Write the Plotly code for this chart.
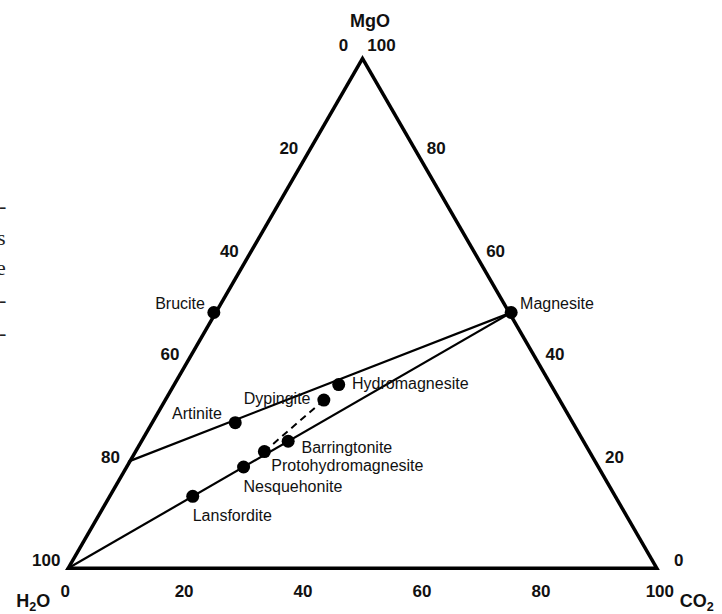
import plotly.graph_objects as go

NB = "\u00a0"

# Mg-carbonate / hydroxide phases, mol % of MgO, CO2 and H2O
minerals = ["Brucite", "Magnesite", "Hydromagnesite", "Dypingite", "Artinite",
            "Barringtonite", "Protohydromagnesite", "Nesquehonite", "Lansfordite"]
mgo = [50, 50, 36, 33, 28.6, 25, 23, 20, 14.3]
co2 = [0, 50, 28, 27, 14.3, 25, 22, 20, 14.3]
h2o = [50, 0, 36, 40, 57.1, 50, 55, 60, 71.4]

# Solid tie lines: (start, end) compositions
tie_mgo = [[21, 50], [0, 50]]
tie_co2 = [[0, 50], [0, 50]]
tie_h2o = [[79, 0], [100, 0]]

# Dashed link between two phases
dashed_pair = ["Dypingite", "Protohydromagnesite"]

tick_values = [0, 20, 40, 60, 80, 100]

# Label placement: textposition, blank lines before, left pad, right pad, offset size
label_style = {
    "Brucite": ("top left", 0, 0, 2, 0),
    "Magnesite": ("top right", 0, 2, 0, 0),
    "Hydromagnesite": ("middle right", 0, 3, 0, 0),
    "Dypingite": ("middle left", 0, 0, 3, 0),
    "Artinite": ("top left", 0, 0, 3, 0),
    "Barringtonite": ("bottom right", 0, 3, 0, 0),
    "Protohydromagnesite": ("bottom right", 0, 0, 0, 9.6),
    "Nesquehonite": ("middle right", 2, 0, 0, 0),
    "Lansfordite": ("middle right", 2, 0, 0, 0),
}

SANS = "Arial, Liberation Sans, sans-serif"
INK = "#111111"


def padded(text, blanks=0, left=0, right=0):
    return (NB + "<br>") * blanks + NB * left + text + NB * right


fig = go.Figure()

# Triangle outline; lines are clipped to the plot triangle, so only the
# inner half of the stroke shows
fig.add_trace(go.Scatterternary(
    a=[100, 0, 0, 100, 0], b=[0, 100, 0, 0, 100], c=[0, 0, 100, 0, 0],
    mode="lines", line=dict(color="black", width=7),
    hoverinfo="skip"))

# Tie lines
for am, ac, ah in zip(tie_mgo, tie_co2, tie_h2o):
    fig.add_trace(go.Scatterternary(
        a=am, b=ah, c=ac, mode="lines",
        line=dict(color="black", width=2.2), cliponaxis=False, hoverinfo="skip"))

i0, i1 = (minerals.index(n) for n in dashed_pair)
fig.add_trace(go.Scatterternary(
    a=[mgo[i0], mgo[i1]], b=[h2o[i0], h2o[i1]], c=[co2[i0], co2[i1]],
    mode="lines", line=dict(color="black", width=2, dash="7px,5px"),
    cliponaxis=False, hoverinfo="skip"))

# Phase points
fig.add_trace(go.Scatterternary(
    a=mgo, b=h2o, c=co2, mode="markers",
    marker=dict(color="black", size=13, line=dict(width=0)),
    cliponaxis=False, text=minerals, hoverinfo="text"))

# Phase names
styles = [label_style[n] for n in minerals]
fig.add_trace(go.Scatterternary(
    a=mgo, b=h2o, c=co2, mode="markers+text",
    text=[padded(n, s[1], s[2], s[3]) for n, s in zip(minerals, styles)],
    textposition=[s[0] for s in styles],
    marker=dict(size=[s[4] for s in styles], opacity=0),
    textfont=dict(family=SANS, size=16, color=INK),
    cliponaxis=False, hoverinfo="skip"))

tick_font = dict(family=SANS, size=17, color=INK, weight="bold")

# H2O scale along the left edge (0 sits beside the apex)
left_t = tick_values
fig.add_trace(go.Scatterternary(
    a=[100 - t for t in left_t], b=left_t, c=[0] * len(left_t),
    mode="text", textposition="top left",
    text=[str(t) + NB * (3 if t == 0 else 1) for t in left_t],
    textfont=tick_font, cliponaxis=False, hoverinfo="skip"))

# MgO scale along the right edge (100 sits beside the apex)
right_t = tick_values
fig.add_trace(go.Scatterternary(
    a=right_t, b=[0] * len(right_t), c=[100 - t for t in right_t],
    mode="text", textposition="top right",
    text=[NB * (3 if t == 0 else 1) + str(t) for t in right_t],
    textfont=tick_font, cliponaxis=False, hoverinfo="skip"))

# CO2 scale along the base
fig.add_trace(go.Scatterternary(
    a=[0] * len(tick_values), b=[100 - t for t in tick_values], c=tick_values,
    mode="markers+text", textposition="bottom center",
    text=[str(t) for t in tick_values],
    marker=dict(size=21, opacity=0),
    textfont=tick_font, cliponaxis=False, hoverinfo="skip"))

# Component names at the corners
title_font = dict(family=SANS, size=18, color=INK, weight="bold")
fig.add_trace(go.Scatterternary(
    a=[100, 0, 0], b=[0, 100, 0], c=[0, 0, 100],
    mode="text",
    text=[NB * 3 + "MgO<br>" + NB,
          NB + "<br>H<sub>2</sub>O" + NB * 3,
          NB + "<br>" + NB * 4 + "CO<sub>2</sub>"],
    textposition=["top center", "bottom left", "bottom right"],
    textfont=title_font, cliponaxis=False, hoverinfo="skip"))

axis_style = dict(showline=False, showgrid=False, showticklabels=False,
                  ticks="", title=dict(text=""))

# Line ends of the neighbouring page column
margin_bits = ["-", "s", "e", "-", "-"]
margin_y = [0.7087, 0.6447, 0.5883, 0.5243, 0.4602]
annotations = [dict(text=t, x=-0.0958, y=y, xref="paper", yref="paper",
                    xanchor="right", yanchor="middle", showarrow=False,
                    font=dict(family="Liberation Serif, serif", size=22, color="#222"))
               for t, y in zip(margin_bits, margin_y)]

fig.update_layout(
    width=722, height=614,
    margin=dict(l=65, r=62, t=55, b=44),
    paper_bgcolor="white",
    showlegend=False,
    annotations=annotations,
    ternary=dict(sum=100, bgcolor="white",
                 domain=dict(x=[0, 1], y=[0, 1]),
                 aaxis=axis_style, baxis=axis_style, caxis=axis_style),
)

fig.write_html("out.html")
